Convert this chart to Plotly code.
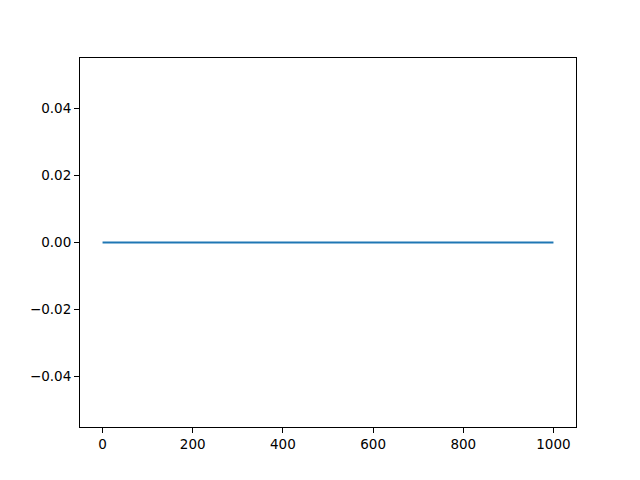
import plotly.graph_objects as go

# flat series: zero from start to end
x_vals = [0, 1000]
y_vals = [0.0, 0.0]

x_ticks = [0, 200, 400, 600, 800, 1000]
y_ticks = [-0.04, -0.02, 0.0, 0.02, 0.04]

fig = go.Figure()
fig.add_trace(go.Scatter(x=x_vals, y=y_vals, mode="lines",
                         line=dict(color="#1f77b4", width=2), showlegend=False))

axis_style = dict(showline=True, mirror=True, linecolor="black", linewidth=1,
                  ticks="outside", ticklen=5, tickwidth=1, tickcolor="black",
                  showgrid=False, zeroline=False,
                  tickfont=dict(family="DejaVu Sans", size=13.5, color="black"))

# page adds an 8px offset, so margins are shifted to compensate
fig.update_layout(
    width=640, height=480, autosize=False,
    margin=dict(l=72, r=72, t=50, b=61),
    paper_bgcolor="white", plot_bgcolor="white",
    xaxis=dict(range=[-50, 1050], tickvals=x_ticks, **axis_style),
    yaxis=dict(range=[-0.055, 0.055], tickvals=y_ticks, tickformat=".2f", **axis_style),
)

fig.write_html("out.html")
